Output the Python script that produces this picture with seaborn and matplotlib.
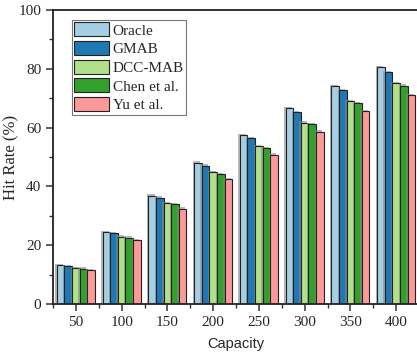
import pandas as pd
import matplotlib
matplotlib.use("Agg")
import matplotlib.pyplot as plt
import matplotlib.patheffects as pe
from matplotlib.ticker import MultipleLocator, FixedLocator
import seaborn as sns

capacity = ["50", "100", "150", "200", "250", "300", "350", "400"]
methods = ["Oracle", "GMAB", "DCC-MAB", "Chen et al.", "Yu et al."]
oracle = [13.2, 24.5, 36.8, 48.0, 57.5, 66.5, 74.1, 80.6]
gmab = [12.8, 24.0, 36.1, 47.0, 56.4, 65.2, 72.8, 78.9]
dccmab = [12.2, 22.9, 34.3, 44.8, 53.6, 61.7, 69.0, 75.1]
chen = [12.0, 22.6, 33.9, 44.2, 53.0, 61.2, 68.3, 74.3]
yu = [11.6, 21.7, 32.4, 42.4, 50.8, 58.6, 65.5, 71.1]

rows = []
for name, vals in zip(methods, [oracle, gmab, dccmab, chen, yu]):
    for c, v in zip(capacity, vals):
        rows.append({"Capacity": c, "Method": name, "Hit Rate": v})
df = pd.DataFrame(rows)

sns.set_style("ticks")
plt.rcParams["font.family"] = ["Liberation Serif", "DejaVu Serif"]

fig = plt.figure(figsize=(4.17, 3.56), dpi=100)
ax = fig.add_axes([53 / 417, 52 / 356, 366 / 417, 294 / 356])

sns.barplot(data=df, x="Capacity", y="Hit Rate", hue="Method", hue_order=methods,
            palette="Paired", width=0.83, gap=0, edgecolor="#222222", linewidth=0.8,
            saturation=1, ax=ax)

for p in ax.patches:
    p.set_path_effects([pe.SimplePatchShadow(offset=(-1, 1), shadow_rgbFace="#888888", alpha=0.6),
                        pe.Normal()])

ax.set_ylim(0, 100)
ax.set_xlim(-0.5, 7.5)
ax.yaxis.set_major_locator(MultipleLocator(20))
ax.yaxis.set_minor_locator(MultipleLocator(10))
ax.xaxis.set_minor_locator(FixedLocator([i + 0.5 for i in range(-1, 8)]))
ax.tick_params(axis="both", which="major", direction="out", length=5, width=1.1,
               labelsize=11, color="#333333")
ax.tick_params(axis="both", which="minor", direction="out", length=3, width=1.0, color="#333333")

for s in ["left", "bottom", "top", "right"]:
    ax.spines[s].set_visible(True)
    ax.spines[s].set_linewidth(1.3)
    ax.spines[s].set_color("#222222")

ax.set_ylabel("Hit Rate (%)", fontsize=12)
ax.yaxis.set_label_coords(-0.092, 0.5)
ax.set_xlabel("Capacity", fontsize=10.5, family=["Liberation Sans", "DejaVu Sans"], labelpad=6)

leg = ax.legend(loc="upper left", bbox_to_anchor=(0.052, 0.966), frameon=True, fancybox=False,
                edgecolor="#555555", fontsize=11, handlelength=2.3, handleheight=1.05,
                handletextpad=0.2, labelspacing=0.22, borderpad=0.15, borderaxespad=0)
leg.get_frame().set_linewidth(0.8)
for h in leg.legend_handles:
    h.set_path_effects([])

fig.savefig("out.png", dpi=100)
